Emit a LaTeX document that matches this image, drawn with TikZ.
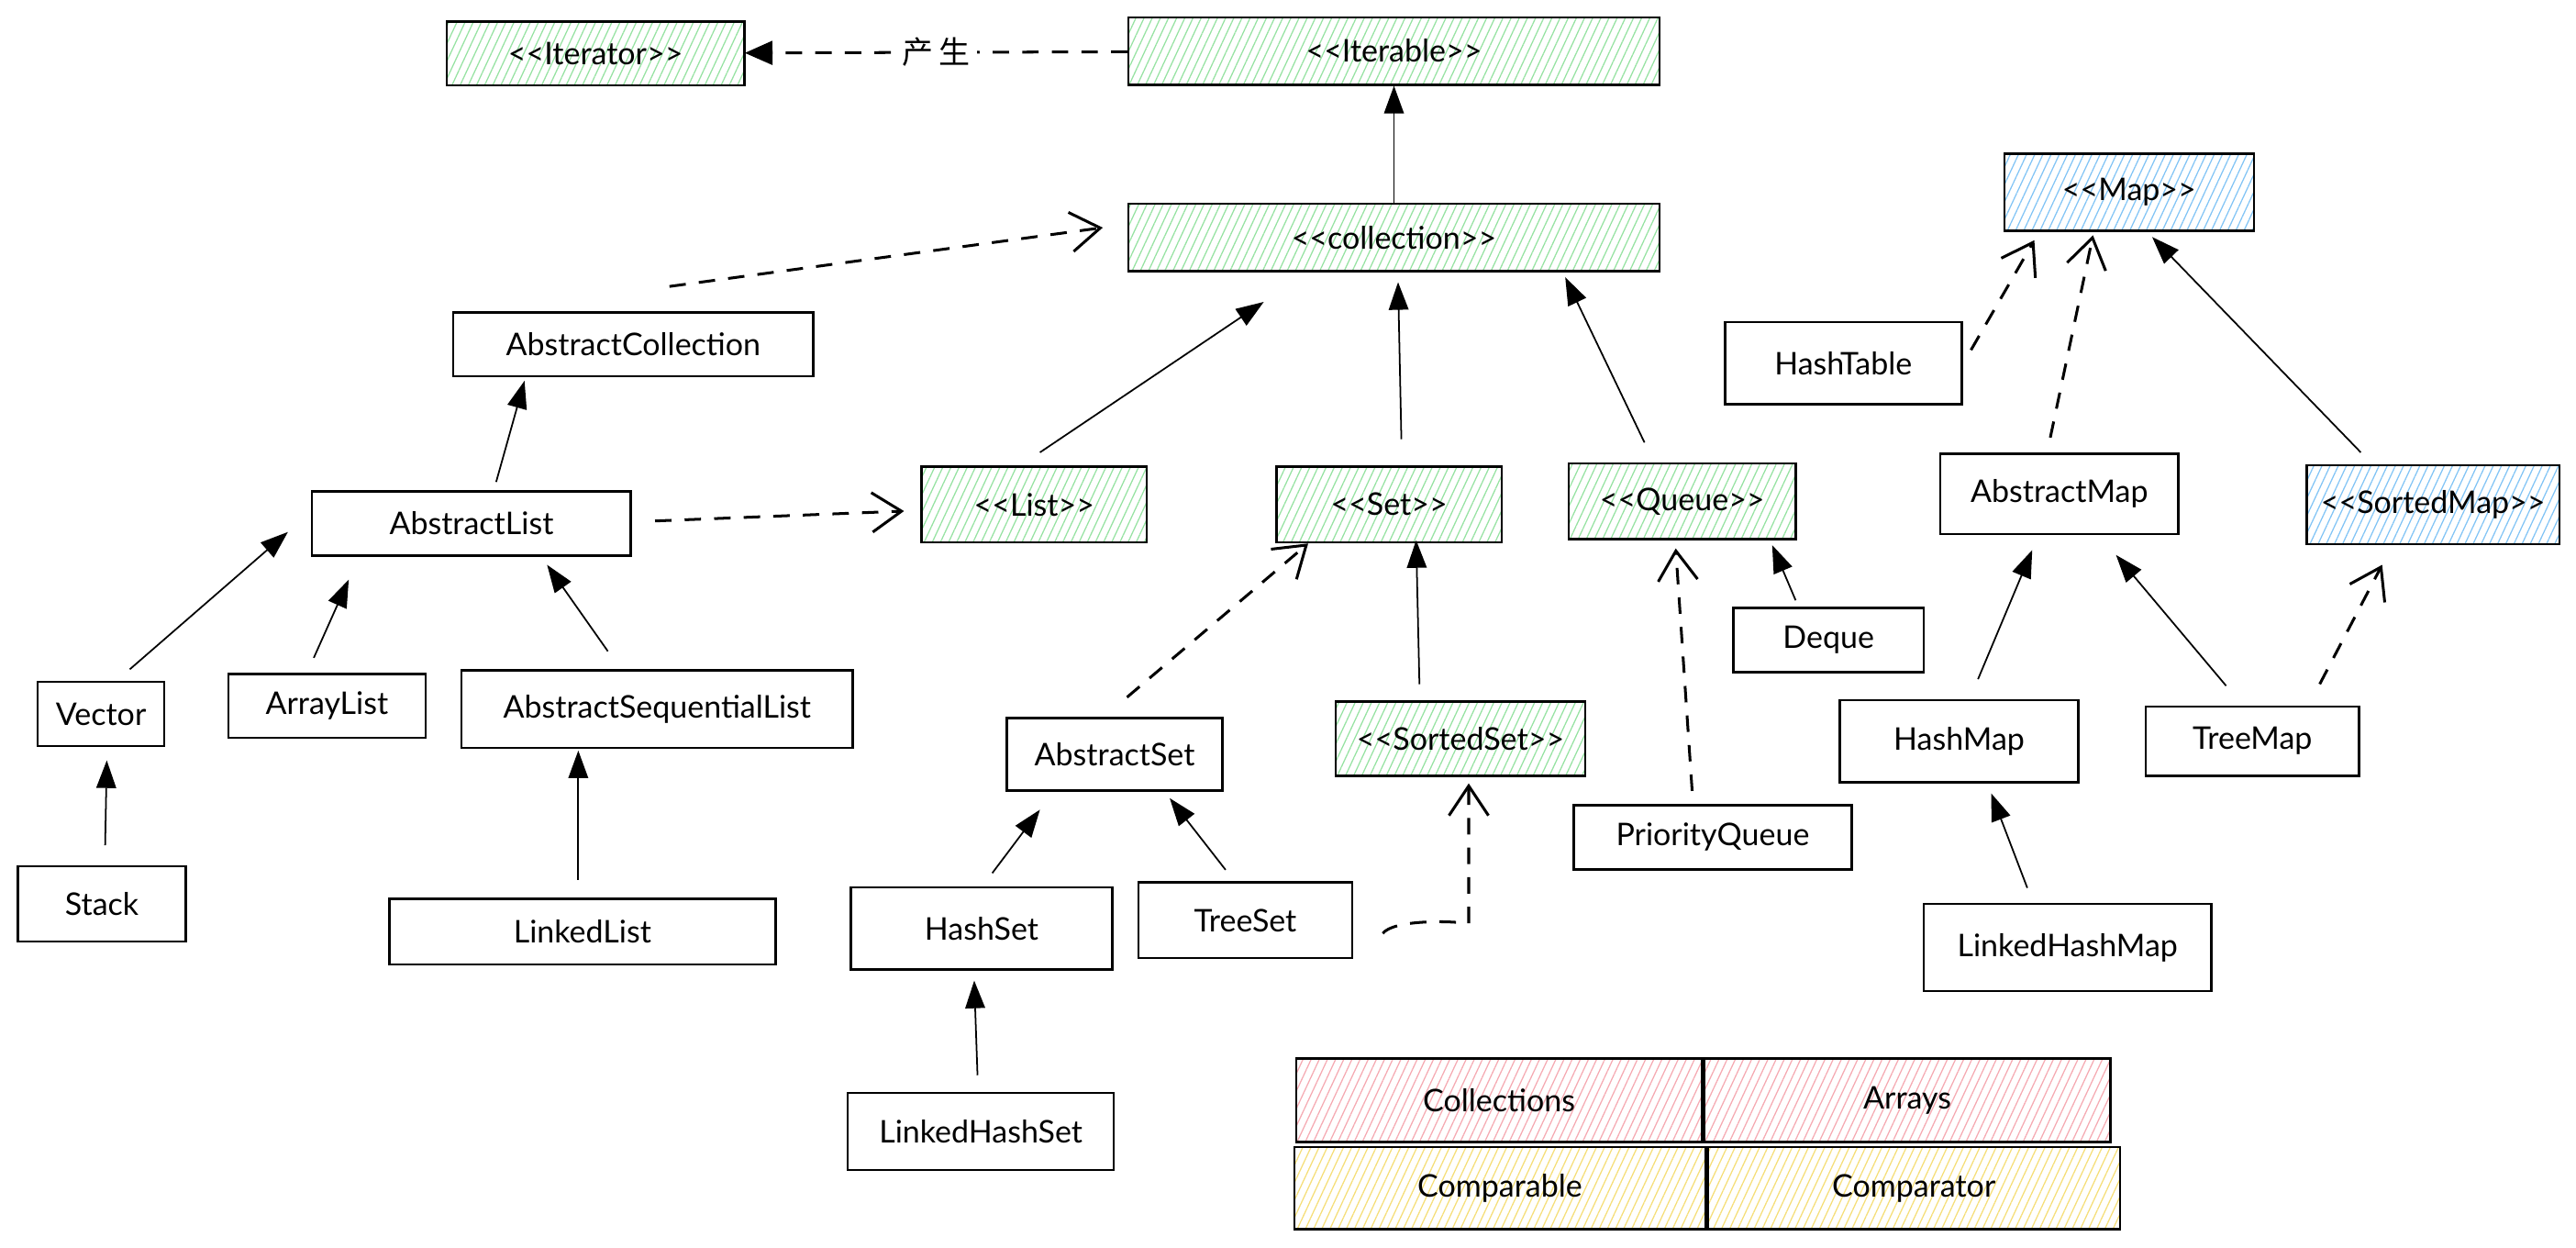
\documentclass[tikz,border=0pt]{standalone}
\usepackage{fontspec}
\setmainfont{Lato}
\newfontfamily\cjk{Noto Sans CJK SC}
\usepackage{tikz}
\usetikzlibrary{arrows.meta,positioning,calc,patterns.meta}
\definecolor{hatchgreen}{RGB}{150,226,162}
\definecolor{hatchblue}{RGB}{130,196,245}
\definecolor{hatchpink}{RGB}{245,170,178}
\definecolor{hatchyellow}{RGB}{245,222,120}
\newcommand{\stereo}[1]{{<}{<}#1{>}{>}}

\begin{document}
\begin{tikzpicture}[x=0.025cm,y=-0.025cm,font=\fontsize{13.5}{16}\selectfont,
  cls/.style={draw,line width=1pt,inner sep=0pt},
  hatched/.style={cls,pattern={Lines[angle=65,distance=3.2pt,line width=0.5pt]},pattern color=#1},
  iface/.style={hatched=hatchgreen},
  mapface/.style={hatched=hatchblue},
  inh/.style={line width=0.7pt,-{Triangle[length=0.42cm,width=0.3cm]}},
  impl/.style={line width=1.2pt,dash pattern=on 0.25cm off 0.2cm,-{Straight Barb[length=0.45cm,width=0.6cm,line width=1.2pt]}},
  dep/.style={line width=1.2pt,dash pattern=on 0.25cm off 0.2cm,-{Triangle[length=0.42cm,width=0.36cm]}}]
\useasboundingbox (0,0) rectangle (1568,759);

% interfaces
\node[iface,minimum width=4.525cm,minimum height=0.975cm] (iterator) at (362.5,32.5) {\stereo{Iterator}};
\node[iface,minimum width=8.075cm,minimum height=1.025cm] (iterable) at (848.5,31) {\stereo{Iterable}};
\node[iface,minimum width=8.075cm,minimum height=1.025cm] (collection) at (848.5,144.5) {\stereo{collection}};
\node[iface,minimum width=3.425cm,minimum height=1.15cm] (list) at (629.5,307) {\stereo{List}};
\node[iface,minimum width=3.425cm,minimum height=1.15cm] (set) at (845.5,307) {\stereo{Set}};
\node[iface,minimum width=3.45cm,minimum height=1.15cm] (queue) at (1024,305) {\stereo{Queue}};
\node[iface,minimum width=3.8cm,minimum height=1.125cm] (sortedset) at (889,449.5) {\stereo{SortedSet}};
\node[mapface,minimum width=3.8cm,minimum height=1.175cm] (map) at (1296,117) {\stereo{Map}};
\node[mapface,minimum width=3.85cm,minimum height=1.2cm] (sortedmap) at (1481,307) {\stereo{SortedMap}};

% classes
\node[cls,minimum width=5.475cm,minimum height=0.975cm] (acoll) at (385.5,209.5) {AbstractCollection};
\node[cls,minimum width=4.85cm,minimum height=0.975cm] (alist) at (287,318.5) {AbstractList};
\node[cls,minimum width=1.925cm,minimum height=0.975cm] (vector) at (61.5,434.5) {Vector};
\node[cls,minimum width=3.0cm,minimum height=0.975cm] (arraylist) at (199,429.5) {ArrayList};
\node[cls,minimum width=5.95cm,minimum height=1.175cm] (aseqlist) at (400,431.5) {AbstractSequentialList};
\node[cls,minimum width=2.55cm,minimum height=1.15cm] (stack) at (62,550) {Stack};
\node[cls,minimum width=5.875cm,minimum height=1.0cm] (linkedlist) at (354.5,567) {LinkedList};
\node[cls,minimum width=3.275cm,minimum height=1.1cm] (aset) at (678.5,459) {AbstractSet};
\node[cls,minimum width=3.975cm,minimum height=1.25cm] (hashset) at (597.5,565) {HashSet};
\node[cls,minimum width=3.25cm,minimum height=1.15cm] (treeset) at (758,560) {TreeSet};
\node[cls,minimum width=4.05cm,minimum height=1.175cm] (lhashset) at (597,688.5) {LinkedHashSet};
\node[cls,minimum width=2.9cm,minimum height=0.975cm] (deque) at (1113,389.5) {Deque};
\node[cls,minimum width=4.225cm,minimum height=0.975cm] (pqueue) at (1042.5,509.5) {PriorityQueue};
\node[cls,minimum width=3.6cm,minimum height=1.25cm] (hashtable) at (1122,221) {HashTable};
\node[cls,minimum width=3.625cm,minimum height=1.225cm] (amap) at (1253.5,300.5) {AbstractMap};
\node[cls,minimum width=3.625cm,minimum height=1.25cm] (hashmap) at (1192.5,451) {HashMap};
\node[cls,minimum width=3.25cm,minimum height=1.05cm] (treemap) at (1371,451) {TreeMap};
\node[cls,minimum width=4.375cm,minimum height=1.325cm] (lhashmap) at (1258.5,576.5) {LinkedHashMap};

% utility classes
\node[hatched=hatchpink,minimum width=6.175cm,minimum height=1.275cm] (collections) at (912.5,669.5) {Collections};
\node[hatched=hatchpink,minimum width=6.175cm,minimum height=1.275cm,right=0pt of collections] (arrays) {Arrays};
\node[hatched=hatchyellow,minimum width=6.25cm,minimum height=1.25cm] (comparable) at (913,723) {Comparable};
\node[hatched=hatchyellow,minimum width=6.275cm,minimum height=1.25cm,right=0pt of comparable] (comparator) {Comparator};

% collection side
\draw[dep] (iterable) -- node[fill=white,inner sep=3pt] {\cjk 产\,生} (iterator);
\draw[inh] (collection.north) -- (iterable.south);
\draw[impl] ($(acoll.north)+(22,-15)$) -- ($(collection.west)+(-15,-6)$);
\draw[inh] ($(alist.north)+(15,-5)$) -- ($(acoll.south west)+(44,2)$);
\draw[impl] ($(alist.east)+(14,-1.5)$) -- ($(list.west)+(-10,4)$);
\draw[inh] ($(list.north)+(3.5,-8)$) -- ($(collection.south west)+(83,18)$);
\draw[inh] ($(set.north)+(7.5,-16)$) -- ($(collection.south)+(2.5,6)$);
\draw[inh] ($(queue.north)+(-23,-12)$) -- ($(collection.south east)+(-58,3)$);
\draw[inh] ($(vector.north)+(17.5,-7)$) -- ($(alist.south west)+(-14,-15)$);
\draw[inh] ($(arraylist.north)+(-8,-9)$) -- ($(alist.south west)+(23,14)$);
\draw[inh] ($(aseqlist.north)+(-30,-11)$) -- ($(alist.south)+(46,5)$);
\draw[inh] ($(stack.north)+(2,-12)$) -- ($(vector.south)+(3.5,8)$);
\draw[inh] ($(linkedlist.north)+(-2.5,-11)$) -- ($(aseqlist.south)+(-48,1)$);
\draw[impl] ($(aset.north)+(7.5,-12)$) -- ($(set.south west)+(20,0)$);
\draw[inh] ($(sortedset.north)+(-25,-10)$) -- ($(set.south)+(16.5,-2)$);
\draw[impl] ($(pqueue.north)+(-12.5,-8)$) -- ($(queue.south)+(-4,5)$);
\draw[inh] ($(deque.north)+(-20,-4)$) -- ($(queue.south east)+(-15,3)$);
\draw[inh] ($(hashset.north)+(6.5,-8)$) -- ($(aset.south)+(-45.5,11)$);
\draw[inh] ($(treeset.north)+(-12,-7)$) -- ($(aset.south)+(33.5,4)$);
\coordinate (tsbend) at (894,562);
\draw[impl] ($(treeset.east)+(18,8)$) .. controls +(6,-8) and +(-14,-2) .. (tsbend) -- ($(sortedset.south)+(5,4)$);
\draw[inh] ($(lhashset.north)+(-2,-10)$) -- ($(hashset.south)+(-4.5,6)$);

% map side
\draw[impl] ($(hashtable.east)+(5,-8)$) -- ($(map.south west)+(19,5)$);
\draw[impl] ($(amap.north)+(-5.5,-9)$) -- ($(map.south)+(-22,2)$);
\draw[inh] ($(sortedmap.north)+(-44,-7)$) -- ($(map.south)+(14,3)$);
\draw[inh] ($(hashmap.north)+(11.5,-12)$) -- ($(amap.south)+(-16.5,9)$);
\draw[inh] ($(treemap.north)+(-16,-12)$) -- ($(amap.south)+(34.5,12)$);
\draw[impl] ($(treemap.north)+(41,-13)$) -- ($(sortedmap.south)+(-31,12)$);
\draw[inh] ($(lhashmap.north)+(-24.5,-9)$) -- ($(hashmap.south)+(19.5,6)$);
\end{tikzpicture}
\end{document}
